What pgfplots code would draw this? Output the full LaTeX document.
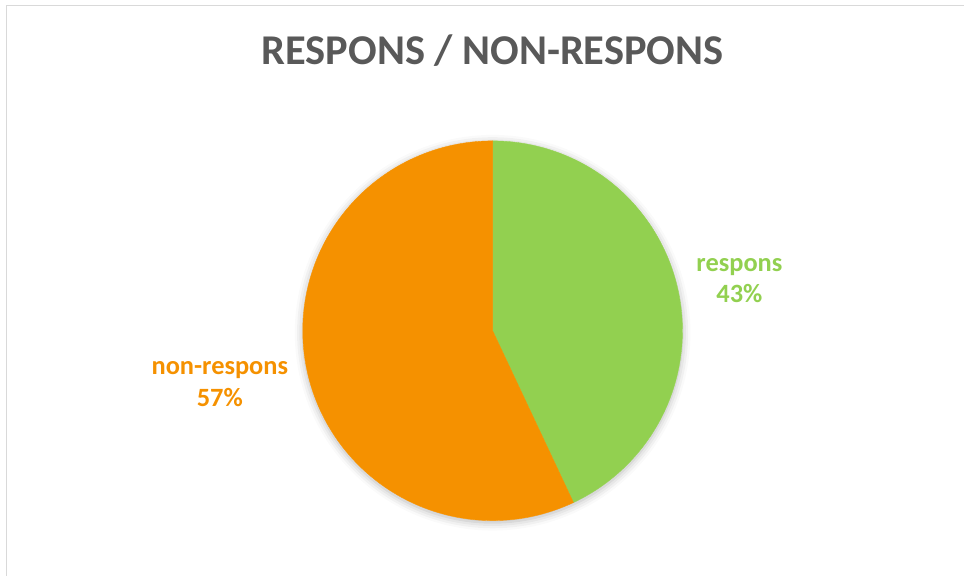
\documentclass[border=0pt]{standalone}
\usepackage{pgfplots}
\usepackage{pgfplotstable}
\pgfplotsset{compat=1.18}
\usetikzlibrary{shadows.blur}
\usepackage{fontspec}
\setmainfont{Carlito}

\definecolor{respgreen}{HTML}{92D050}
\definecolor{nonresporange}{HTML}{F59100}
\definecolor{titlegray}{HTML}{595959}
\definecolor{framegray}{HTML}{D9D9D9}

% share of each answer group, in percent
\pgfplotstableread{
group        share
respons      43
non-respons  57
}\sharetable

\pgfplotstablegetelem{0}{share}\of\sharetable \let\shareA\pgfplotsretval
\pgfplotstablegetelem{1}{share}\of\sharetable \let\shareB\pgfplotsretval

% slices start at 12 o'clock and run clockwise
\pgfmathsetmacro{\angA}{90}
\pgfmathsetmacro{\angB}{90-3.6*\shareA}
\pgfmathsetmacro{\angC}{\angB-3.6*\shareB}

\begin{document}
\begin{tikzpicture}
\begin{axis}[
  x=1bp, y=1bp,
  xmin=-493, xmax=472,
  ymin=-245, ymax=331,
  hide axis,
  clip=false,
]
  % page frame (left and top edges)
  \path (rel axis cs:0,0) rectangle (rel axis cs:1,1);
  \draw[framegray, line width=1.5bp] (axis cs:-486.5,-245) -- (axis cs:-486.5,325.5) -- (axis cs:472,325.5);

  % soft shadow under the pie
  \addplot[draw=none, fill=white, data cs=polar, domain=0:360, samples=181,
    blur shadow={shadow xshift=0bp, shadow yshift=-2bp, shadow blur radius=8bp, shadow opacity=30}]
    ({x},{190}) -- cycle;

  % slices
  \addplot[draw=respgreen, line width=0.4bp, fill=respgreen, data cs=polar, domain=\angA:\angB, samples=120]
    ({x},{190}) -- (axis cs:0,0) -- cycle;
  \addplot[draw=nonresporange, line width=0.4bp, fill=nonresporange, data cs=polar, domain=\angB:\angC, samples=160]
    ({x},{190}) -- (axis cs:0,0) -- cycle;

  % title
  \node[anchor=base, text=titlegray, font=\fontsize{42.6}{50}\selectfont\bfseries]
    at (axis cs:0,266) {RESPONS / NON-RESPONS};

  % data labels
  \node[anchor=base, text=respgreen, font=\fontsize{26.5}{31}\selectfont\bfseries]
    at (axis cs:247,59) {respons};
  \node[anchor=base, text=respgreen, font=\fontsize{26.5}{31}\selectfont\bfseries]
    at (axis cs:247,28) {\shareA\%};
  \node[anchor=base, text=nonresporange, font=\fontsize{26.5}{31}\selectfont\bfseries]
    at (axis cs:-273,-44) {non-respons};
  \node[anchor=base, text=nonresporange, font=\fontsize{26.5}{31}\selectfont\bfseries]
    at (axis cs:-273,-76) {\shareB\%};
\end{axis}
\end{tikzpicture}
\end{document}
